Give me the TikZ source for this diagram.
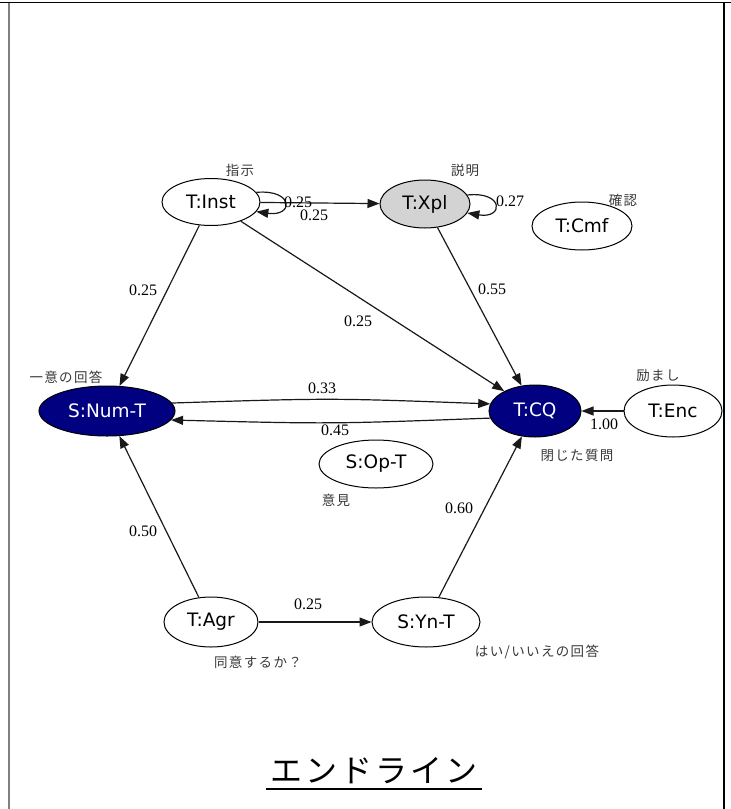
\documentclass[tikz,border=0pt]{standalone}
\usepackage{fontspec}
\usetikzlibrary{shapes.geometric,arrows.meta}
\newfontfamily\labelfont{DejaVu Sans}
\newfontfamily\weightfont{Liberation Serif}
\newfontfamily\jpfont[LetterSpace=10]{Noto Sans CJK JP}
\definecolor{navy}{RGB}{0,0,128}
\definecolor{lightgrey}{RGB}{211,211,211}
\begin{document}
\begin{tikzpicture}[x=1pt,y=-1pt,
  state/.style={ellipse,draw=black,line width=1pt,inner sep=0pt,
    font=\labelfont\fontsize{18.5}{21}\selectfont},
  dark/.style={state,fill=navy,text=white},
  edge/.style={draw=black!90,line width=1.2pt,-{Triangle[length=12pt,width=9pt]}},
  w/.style={font=\weightfont\fontsize{16}{18}\selectfont,inner sep=0pt},
  jp/.style={font=\jpfont\fontsize{13.5}{16}\selectfont,text=black!78,inner sep=0pt}]
\useasboundingbox (0,0) rectangle (731,809);
% page frame
\draw[line width=1.5pt] (0,2.5) -- (731,2.5);
\draw[gray,line width=2.2pt] (9,2.5) -- (9,809);
\draw[line width=1.5pt] (724,2.5) -- (724,809);

% states
\node[state,minimum width=98pt,minimum height=47pt] (inst) at (211,202) {T:Inst};
\node[state,fill=lightgrey,minimum width=90pt,minimum height=48pt] (xpl) at (425,204) {T:Xpl};
\node[state,minimum width=100pt,minimum height=48pt] (cmf) at (582,226) {T:Cmf};
\node[dark,minimum width=136pt,minimum height=50pt] (num) at (107,411) {S:Num-T};
\node[dark,minimum width=92pt,minimum height=52pt] (cq) at (535,411) {T:CQ};
\node[state,minimum width=98pt,minimum height=52pt] (enc) at (673,411) {T:Enc};
\node[state,minimum width=114pt,minimum height=48pt] (opt) at (376,464) {S:Op-T};
\node[state,minimum width=94pt,minimum height=50pt] (agr) at (211,622) {T:Agr};
\node[state,minimum width=108pt,minimum height=50pt] (yn) at (426,622) {S:Yn-T};

% transitions
\draw[edge] (inst.12) .. controls (294,189) and (294,217) .. (inst.-12);
\draw[edge] (inst) -- (xpl);
\draw[edge] (xpl.12) .. controls (504,191) and (504,219) .. (xpl.-12);
\draw[edge] (inst) -- (num);
\draw[edge] (inst) -- (cq);
\draw[edge] (xpl) -- (cq);
\draw[edge] (num.7) .. controls (331,398) .. (cq.171);
\draw[edge] (cq.189) .. controls (331,424) .. (num.-8);
\draw[edge] (enc) -- (cq);
\draw[edge] (agr) -- (num);
\draw[edge] (agr) -- (yn);
\draw[edge] (yn) -- (cq);

% transition weights
\node[w] (w1) at (298,202) {0.25};
\node[w] (w2) at (314,215) {0.25};
\node[w] (w3) at (510,201) {0.27};
\node[w] (w4) at (143,290) {0.25};
\node[w] (w5) at (358,321) {0.25};
\node[w] (w6) at (492,289) {0.55};
\node[w] (w7) at (322,388) {0.33};
\node[w] (w8) at (335,430) {0.45};
\node[w] (w9) at (604,424) {1.00};
\node[w] (w10) at (143,531) {0.50};
\node[w] (w11) at (308,604) {0.25};
\node[w] (w12) at (459,508) {0.60};

% state descriptions
\node[jp] (d1) at (240,170) {指示};
\node[jp] (d2) at (465,170) {説明};
\node[jp] (d3) at (623,200) {確認};
\node[jp] (d4) at (66,377) {一意の回答};
\node[jp] (d5) at (658,376) {励まし};
\node[jp] (d6) at (577,455) {閉じた質問};
\node[jp] (d7) at (336,500) {意見};
\node[jp] (d8) at (258,662) {同意するか？};
\node[jp] (d9) at (537,652) {はい/いいえの回答};

% caption
\node[font=\jpfont\fontsize{32}{36}\selectfont,inner sep=0pt] (title) at (374,771) {エンドライン};
\draw[line width=1.2pt] (266,789) -- (482,789);
\end{tikzpicture}
\end{document}
